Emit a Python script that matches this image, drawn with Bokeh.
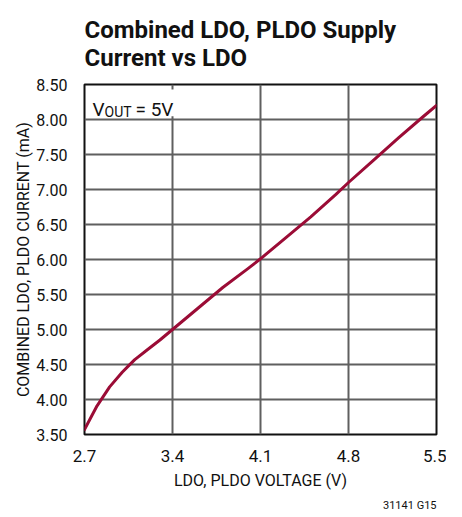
from bokeh.plotting import figure
from bokeh.models import FixedTicker, NumeralTickFormatter, Label, Title, BoxAnnotation
from bokeh.embed import file_html
from bokeh.resources import INLINE

# Data
ldo_voltage = [2.70, 2.80, 2.90, 3.00, 3.05, 3.10, 3.20, 3.30, 3.40, 3.60, 3.80,
               4.00, 4.10, 4.30, 4.50, 4.70, 4.80, 5.00, 5.20, 5.40, 5.50]
supply_current = [3.57, 3.91, 4.18, 4.39, 4.48, 4.57, 4.71, 4.85, 5.00, 5.30, 5.60,
                  5.87, 6.01, 6.31, 6.61, 6.93, 7.10, 7.42, 7.74, 8.05, 8.20]
x_ticks = [2.7, 3.4, 4.1, 4.8, 5.5]
y_ticks = [3.5, 4.0, 4.5, 5.0, 5.5, 6.0, 6.5, 7.0, 7.5, 8.0, 8.5]

FONT = "Roboto"
X0, X1, Y0, Y1 = 2.7, 5.5, 3.5, 8.5

p = figure(width=446, height=515, x_range=(X0, X1), y_range=(Y0, Y1),
           output_backend="svg", toolbar_location=None, title=None,
           min_border_left=84, min_border_right=10, min_border_top=82, min_border_bottom=81)
p.background_fill_color = "white"
p.border_fill_color = "white"
p.outline_line_color = "#111111"
p.outline_line_width = 2

FL, FR, FT, FB = 84, 436, 82, 434
def dx(px):
    return X0 + (px - FL) * (X1 - X0) / (FR - FL)
def dy(py):
    return Y1 - (py - FT) * (Y1 - Y0) / (FB - FT)

p.xaxis.ticker = FixedTicker(ticks=x_ticks)
p.yaxis.ticker = FixedTicker(ticks=y_ticks)
p.xaxis.formatter = NumeralTickFormatter(format="0.0")
p.yaxis.formatter = NumeralTickFormatter(format="0.00")
for ax in (p.xaxis, p.yaxis):
    ax.axis_line_color = None
    ax.major_tick_line_color = None
    ax.minor_tick_line_color = None
    ax.major_label_text_font = FONT
    ax.major_label_text_font_size = "16px"
    ax.major_label_text_color = "#111111"
    ax.axis_label_text_font = FONT
    ax.axis_label_text_font_style = "normal"
    ax.axis_label_text_color = "#111111"
    ax.axis_label_text_font_size = "16px"
p.xaxis.major_label_text_font_size = "17px"
p.xaxis.axis_label = "LDO, PLDO VOLTAGE (V)"
p.yaxis.axis_label = "COMBINED LDO, PLDO CURRENT (mA)"
p.xaxis.major_label_standoff = 9
p.yaxis.major_label_standoff = 11
p.xaxis.axis_label_standoff = 6
p.yaxis.axis_label_standoff = 0

p.grid.grid_line_color = "#5f5f5f"
p.grid.grid_line_width = 2

p.line(ldo_voltage, supply_current, line_color="#9b0c36", line_width=3,
       line_join="round", line_cap="round")

# white patch behind the V_OUT note (hides the vertical grid line there)
p.add_layout(BoxAnnotation(left=dx(86), right=dx(175), top=dy(87), bottom=dy(114),
                           fill_color="white", fill_alpha=1.0, line_color=None))
p.add_layout(Label(x=dx(92), y=dy(107), text="V", text_font=FONT, text_font_size="19px",
                   text_color="#111111", text_baseline="alphabetic"))
p.add_layout(Label(x=dx(104), y=dy(110), text="OUT", text_font=FONT, text_font_size="14px",
                   text_color="#111111", text_baseline="alphabetic"))
p.add_layout(Label(x=dx(135), y=dy(107), text="= 5V", text_font=FONT, text_font_size="19px",
                   text_color="#111111", text_baseline="alphabetic"))

p.add_layout(Title(text="31141 G15", align="right", text_font=FONT, text_font_size="11px",
                   text_font_style="normal", text_color="#111111", standoff=8), "below")
p.add_layout(Title(text="Combined LDO, PLDO Supply\nCurrent vs LDO", align="left",
                   text_font=FONT, text_font_size="24px", text_font_style="bold",
                   text_color="#111111", standoff=26), "above")

open("out.html", "w").write(file_html(p, INLINE))
